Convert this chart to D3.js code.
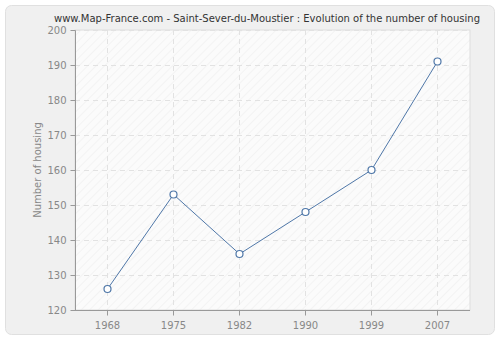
<!DOCTYPE html>
<html><head><meta charset="utf-8">
<script src="https://cdn.jsdelivr.net/npm/d3@7"></script>
<style>html,body{margin:0;padding:0;background:#fff;}svg{display:block;font-family:"DejaVu Sans",Verdana,sans-serif;}</style>
</head><body>
<svg id="chart" width="500" height="340"></svg>
<script>
const title = "www.Map-France.com - Saint-Sever-du-Moustier : Evolution of the number of housing";
const years = ["1968","1975","1982","1990","1999","2007"];
const housing = [126,153,136,148,160,191];
const yTicks = [120,130,140,150,160,170,180,190,200];
const yLabel = "Number of housing";

const svg = d3.select("#chart");
const defs = svg.append("defs");
const pat = defs.append("pattern").attr("id","hatch").attr("patternUnits","userSpaceOnUse")
  .attr("width",6).attr("height",6).attr("patternTransform","rotate(45)");
pat.append("rect").attr("width",6).attr("height",6).attr("fill","#fbfbfb");
pat.append("line").attr("x1",0).attr("y1",0).attr("x2",0).attr("y2",6).attr("stroke","#ececec").attr("stroke-width",1);

svg.append("rect").attr("x",5.5).attr("y",5.5).attr("width",489).attr("height",329).attr("rx",6)
  .attr("fill","#f0f0f0").attr("stroke","#e0e0e0");

const pL=75, pR=470, pT=30, pB=310;
const x = d3.scaleBand().domain(years).range([pL-1,pR]);
const y = d3.scaleLinear().domain([120,200]).range([pB,pT]);

svg.append("rect").attr("x",pL).attr("y",pT).attr("width",pR-pL).attr("height",pB-pT)
  .attr("fill","url(#hatch)").attr("stroke","#dddddd");

const cx = d => Math.round(x(d)+x.bandwidth()/2)+0.5;
// grid
svg.append("g").selectAll("line").data(yTicks.slice(1)).join("line")
  .attr("x1",pL).attr("x2",pR).attr("y1",d=>Math.round(y(d))+0.5).attr("y2",d=>Math.round(y(d))+0.5)
  .attr("stroke","#e2e2e2").attr("stroke-dasharray","5,4");
svg.append("g").selectAll("line").data(years).join("line")
  .attr("x1",cx).attr("x2",cx).attr("y1",pT).attr("y2",pB)
  .attr("stroke","#e2e2e2").attr("stroke-dasharray","5,4");

// axes
const yAxis = d3.axisLeft(y).tickValues(yTicks).tickSize(5).tickPadding(4);
const gy = svg.append("g").attr("transform",`translate(${pL+0.5},0)`).call(yAxis);
const xAxis = d3.axisBottom(x).tickSize(5).tickPadding(6);
const gx = svg.append("g").attr("transform",`translate(0,${pB+0.5})`).call(xAxis);
gx.selectAll(".tick").attr("transform",d=>`translate(${cx(d)},0)`);
[gy,gx].forEach(g=>{
  g.select(".domain").attr("stroke","#999");
  g.selectAll(".tick line").attr("stroke","#999");
  g.selectAll(".tick text").attr("fill","#888").attr("font-size",10).attr("font-family","DejaVu Sans, Verdana, sans-serif");
});
gy.select(".domain").attr("d",`M0,${pT+0.5}V${pB}`);
gx.select(".domain").attr("d",`M${pL},0H${pR}`);

// line
const line = d3.line().x((d,i)=>cx(years[i])).y(d=>y(d));
svg.append("path").datum(housing).attr("d",line).attr("fill","none").attr("stroke","#4f77a8").attr("stroke-width",1);
svg.append("g").selectAll("circle").data(housing).join("circle")
  .attr("cx",(d,i)=>cx(years[i])).attr("cy",d=>y(d)).attr("r",3.5)
  .attr("fill","#fff").attr("stroke","#4f77a8").attr("stroke-width",1.2);

svg.append("text").attr("x",267).attr("y",22).attr("text-anchor","middle")
  .attr("font-size",10).attr("fill","#333").text(title);
svg.append("text").attr("transform",`translate(41,${(pT+pB)/2}) rotate(-90)`).attr("text-anchor","middle")
  .attr("font-size",10).attr("fill","#888").text(yLabel);
</script>
</body></html>
